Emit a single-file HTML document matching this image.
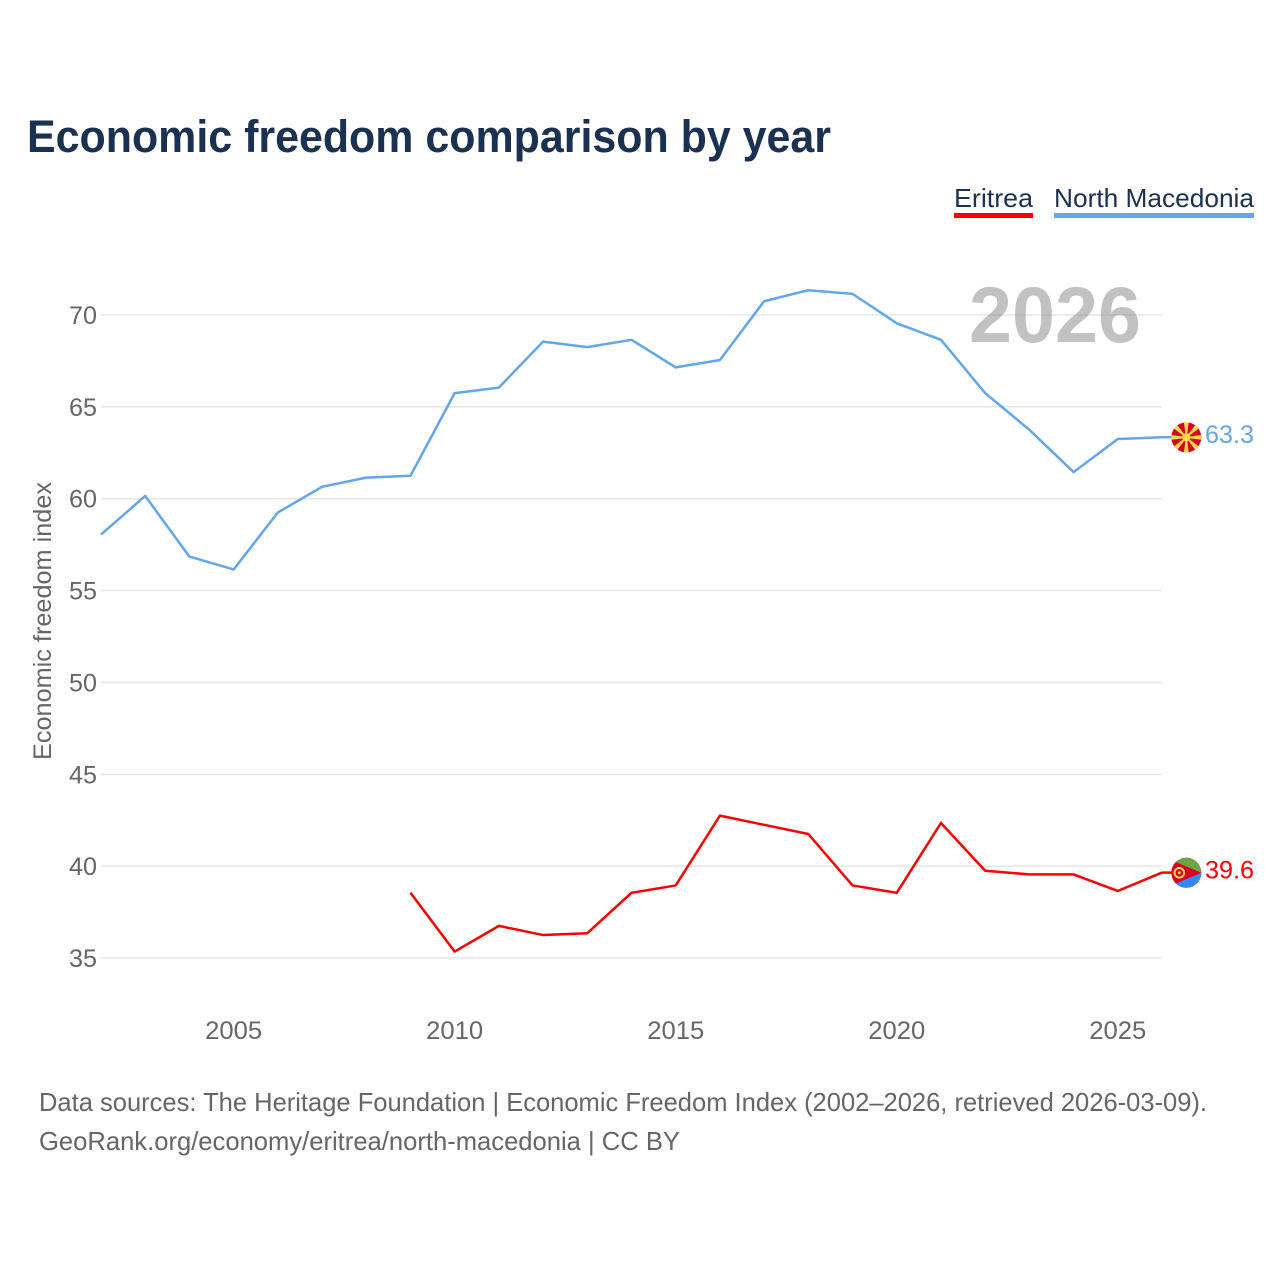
<!DOCTYPE html>
<html lang="en">
<head>
<meta charset="utf-8">
<title>Economic freedom comparison by year</title>
<style>
html,body{margin:0;padding:0;background:#fff;width:1280px;height:1280px;overflow:hidden}
svg{display:block}
text{font-family:"Liberation Sans",sans-serif}
</style>
</head>
<body>
<svg id="chart" xmlns="http://www.w3.org/2000/svg" width="1280" height="1280" viewBox="0 0 1280 1280">
  <text x="27" y="152" font-size="45" font-weight="700" fill="#1a3152" textLength="804" lengthAdjust="spacingAndGlyphs">Economic freedom comparison by year</text>
  <g id="legend">
    <g>
      <text x="954" y="207" font-size="26" fill="#1a3152" textLength="79" lengthAdjust="spacingAndGlyphs">Eritrea</text>
      <rect x="954" y="213" width="79" height="5" fill="#ff0000"></rect>
    </g>
    <g>
      <text x="1054" y="207" font-size="26" fill="#1a3152" textLength="200" lengthAdjust="spacingAndGlyphs">North Macedonia</text>
      <rect x="1054" y="213" width="200" height="5" fill="#62a6ec"></rect>
    </g>
  </g>
  <g id="grid"></g>
  <g id="yticks"></g>
  <g id="xticks"></g>
  <text transform="translate(51,621) rotate(-90)" text-anchor="middle" font-size="25" fill="#666666" textLength="278" lengthAdjust="spacingAndGlyphs">Economic freedom index</text>
  <text id="year-watermark" x="1055" y="342" text-anchor="middle" font-size="79" font-weight="700" fill="#777777" fill-opacity="0.45" textLength="172" lengthAdjust="spacingAndGlyphs">2026</text>
  <g id="series"></g>
  <g id="ends"></g>
  <text x="39" y="1111" font-size="26" fill="#666666" textLength="1168" lengthAdjust="spacingAndGlyphs">Data sources: The Heritage Foundation | Economic Freedom Index (2002–2026, retrieved 2026-03-09).</text>
  <text x="39" y="1150" font-size="26" fill="#666666" textLength="641" lengthAdjust="spacingAndGlyphs">GeoRank.org/economy/eritrea/north-macedonia | CC BY</text>
</svg>
<script>
const years = [2002,2003,2004,2005,2006,2007,2008,2009,2010,2011,2012,2013,2014,2015,2016,2017,2018,2019,2020,2021,2022,2023,2024,2025,2026];
const northMacedonia = [58.0,60.1,56.8,56.1,59.2,60.6,61.1,61.2,65.7,66.0,68.5,68.2,68.6,67.1,67.5,70.7,71.3,71.1,69.5,68.6,65.7,63.7,61.4,63.2,63.3];
const eritrea = [null,null,null,null,null,null,null,38.5,35.3,36.7,36.2,36.3,38.5,38.9,42.7,42.2,41.7,38.9,38.5,42.3,39.7,39.5,39.5,38.6,39.6];
const yTickLabels = [35,40,45,50,55,60,65,70];
const xTickLabels = [2005,2010,2015,2020,2025];

const NS = 'http://www.w3.org/2000/svg';
function x(v){ return 101 + (v - 2002) * (1162 - 101) / 24; }
function y(v){ return 958 - (v - 35) * (958 - 315) / 35; }
function lineY(v){ return y(v) - 0.9; }
function make(tag, attrs, parent){
  const el = document.createElementNS(NS, tag);
  for (const k in attrs) el.setAttribute(k, attrs[k]);
  parent.appendChild(el);
  return el;
}
const grid = document.getElementById('grid');
const yticks = document.getElementById('yticks');
const xticks = document.getElementById('xticks');
const series = document.getElementById('series');
const ends = document.getElementById('ends');

yTickLabels.forEach(function(v){
  const line = make('line', {x1:101, x2:1162, y1:y(v), y2:y(v), stroke:'#e8e8e8', 'stroke-width':1.6}, grid);
  
  
  const t = make('text', {x:97, y:y(v) + 9, 'text-anchor':'end', 'font-size':25, fill:'#666666', textLength:28, lengthAdjust:'spacingAndGlyphs'}, yticks);
  
  
  t.textContent = v;
});
xTickLabels.forEach(function(v){
  const t = make('text', {x:x(v), y:1039, 'text-anchor':'middle', 'font-size':25, fill:'#666666', textLength:57, lengthAdjust:'spacingAndGlyphs'}, xticks);
  
  
  t.textContent = v;
});

function drawLine(values, color, name){
  let d = '';
  let pen = false;
  values.forEach(function(v, i){
    if (v === null) { pen = false; return; }
    d += (pen ? 'L' : 'M') + x(years[i]).toFixed(2) + ' ' + lineY(v).toFixed(2);
    pen = true;
  });
  const p = make('path', {d:d, fill:'none', stroke:color, 'stroke-width':2.5, 'stroke-linejoin':'round'}, series);
  
  
}
drawLine(eritrea, '#ff0000', 'eritrea');
drawLine(northMacedonia, '#62a6ec', 'north-macedonia');

function lastValue(values){ return values[values.length - 1]; }
function endGroup(values, color, name){
  const v = lastValue(values);
  const px = x(years[years.length - 1]);
  const py = lineY(v);
  const connector = make('line', {x1:px, x2:px + 10, y1:py, y2:py, stroke:color, 'stroke-width':2.5}, ends);
  
  
  const label = make('text', {x:1254, y:py + 6, 'text-anchor':'end', 'font-size':25, fill:color, textLength:49, lengthAdjust:'spacingAndGlyphs'}, ends);
  
  
  label.textContent = v.toFixed(1);
  const g = make('g', {transform:'translate(' + (px + 24.3) + ' ' + (py + 0.2) + ')'}, ends);
  
  
  return g;
}

const mk = endGroup(northMacedonia, '#62a6ec', 'north-macedonia');
make('circle', {r:15, fill:'#d80027'}, mk);
for (let a = 0; a < 8; a++) {
  make('polygon', {points:'-0.8,-3 0.8,-3 2.4,-15 -2.4,-15', fill:'#ffda44', transform:'rotate(' + (a * 45) + ')'}, mk);
}
make('circle', {r:4.2, fill:'#ffda44'}, mk);

const er = endGroup(eritrea, '#ff0000', 'eritrea');
make('circle', {r:15, fill:'#d80027'}, er);
make('path', {d:'M-10.5 -10.7 A15 15 0 0 1 15 0 Z', fill:'#6da544'}, er);
make('path', {d:'M-10.5 10.7 A15 15 0 0 0 15 0 Z', fill:'#338af3'}, er);
make('circle', {cx:-7, cy:0, r:4.8, fill:'none', stroke:'#ffda44', 'stroke-width':2}, er);
make('circle', {cx:-7, cy:0, r:1.4, fill:'#ffda44'}, er);
</script>
</body>
</html>
